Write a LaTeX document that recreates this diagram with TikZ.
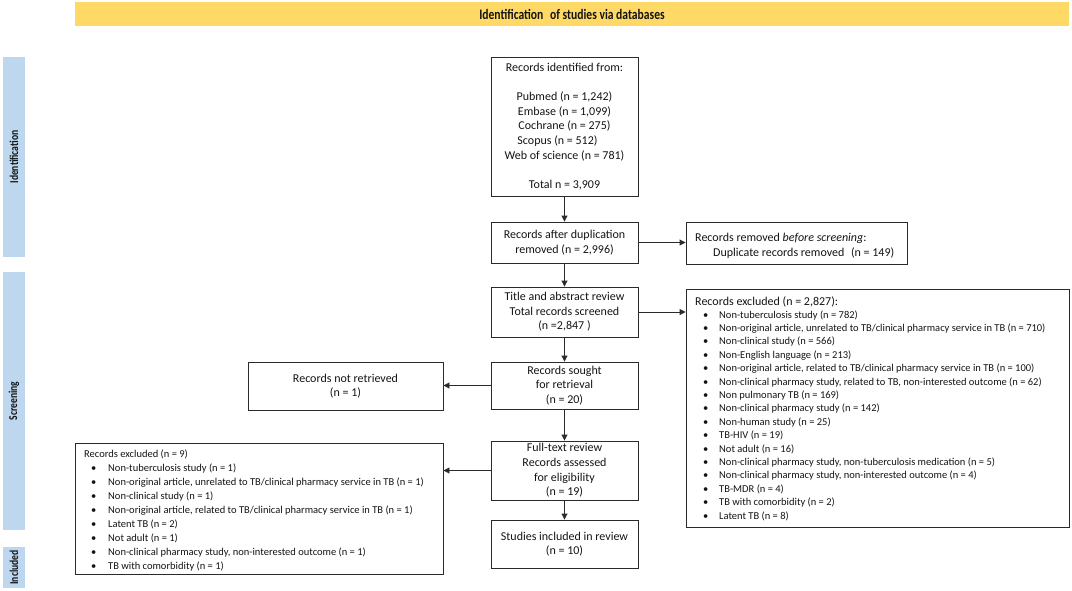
\documentclass[tikz,border=0pt]{standalone}
\usepackage{fontspec}
\setmainfont{Carlito}
\newfontfamily\condfont[FakeStretch=0.8]{Carlito}
\usetikzlibrary{arrows.meta}
\definecolor{banner}{HTML}{FFD966}
\definecolor{barblue}{HTML}{BDD7EE}
\definecolor{boxline}{HTML}{2B2B2B}
\definecolor{txt}{HTML}{141414}
\begin{document}
\begin{tikzpicture}[x=1pt,y=-1pt,
  cbox/.style={draw=boxline, line width=0.9pt, align=center, inner sep=0pt, minimum width=147, text=txt, font=\fontsize{12}{14.6}\selectfont},
  obox/.style={draw=boxline, line width=0.9pt, inner sep=0pt},
  arr/.style={-{Triangle[length=6pt,width=6pt]}, draw=boxline, line width=0.9pt},
  bar/.style={fill=barblue, inner sep=0pt, rotate=90, text=txt, font={\condfont\bfseries\fontsize{12}{13}\selectfont}},
  bul/.style={anchor=base west, inner sep=0pt, text=txt, font=\fontsize{10.5}{12}\selectfont},
  hdr/.style={anchor=base west, inner sep=0pt, text=txt, font=\fontsize{12}{14}\selectfont}]
\useasboundingbox (0,0) rectangle (1072,590);
% banner
\node[fill=banner, minimum width=994, minimum height=24, inner sep=0pt, text=txt,
  font={\condfont\bfseries\fontsize{14.5}{15}\selectfont}] (banner) at (572,14) {Identification\hspace{4pt} of studies via databases};
% side bars
\node[bar, minimum width=200, minimum height=22] (idbar) at (14,157) {Identification};
\node[bar, minimum width=258, minimum height=22] (scbar) at (14,401) {Screening};
\node[bar, minimum width=41, minimum height=22] (inbar) at (14,567.5) {Included};
% central column
\node[cbox, minimum height=139] (b1) at (564.5,126.5) {Records identified from:\\ \mbox{}\\ Pubmed (n = 1,242)\\ Embase (n = 1,099)\\ Cochrane (n = 275)\\ Scopus (n = 512)\rule{14pt}{0pt}\\ Web of science (n = 781)\\ \mbox{}\\ Total n = 3,909};
\node[cbox, minimum height=41] (b2) at (564.5,242.5) {Records after duplication\\ removed (n = 2,996)};
\node[cbox, minimum height=50] (b3) at (564.5,312) {Title and abstract review\\ Total records screened\\ (n =2,847 )};
\node[cbox, minimum height=47] (b4) at (564.5,385.5) {Records sought\\ for retrieval\\ (n = 20)};
\node[cbox, minimum height=59] (b5) at (564.5,470.5) {Full-text review\\ Records assessed\\ for eligibility\\ (n = 19)};
\node[cbox, minimum height=48] (b6) at (564.5,544) {Studies included in review\\ (n = 10)};
% right boxes
\node[obox, minimum width=221, minimum height=42] (rem) at (796.5,243) {};
\node[hdr] (remh) at (695,241) {Records removed \textit{before screening}:};
\node[hdr] (reml) at (713,256) {Duplicate records removed\hspace{4pt} (n = 149)};
\node[obox, minimum width=383, minimum height=238] (excl) at (877.5,408) {};
\node[hdr] (exh) at (695,305) {Records excluded (n = 2,827):};
\foreach \t [count=\i] in {
  {Non-tuberculosis study (n = 782)},
  {Non-original article, unrelated to TB/clinical pharmacy service in TB (n = 710)},
  {Non-clinical study (n = 566)},
  {Non-English language (n = 213)},
  {Non-original article, related to TB/clinical pharmacy service in TB (n = 100)},
  {Non-clinical pharmacy study, related to TB, non-interested outcome (n = 62)},
  {Non pulmonary TB (n = 169)},
  {Non-clinical pharmacy study (n = 142)},
  {Non-human study (n = 25)},
  {TB-HIV (n = 19)},
  {Not adult (n = 16)},
  {Non-clinical pharmacy study, non-tuberculosis medication (n = 5)},
  {Non-clinical pharmacy study, non-interested outcome (n = 4)},
  {TB-MDR (n = 4)},
  {TB with comorbidity (n = 2)},
  {Latent TB (n = 8)}}{
  \node[bul] (rd\i) at ({703},{318.1+13.4*(\i-1)}) {•};
  \node[bul] (rt\i) at ({719},{318.1+13.4*(\i-1)}) {\t};
}
% left boxes
\node[cbox, minimum width=195, minimum height=48] (nr) at (345.5,386) {Records not retrieved\\ (n = 1)};
\node[obox, minimum width=368, minimum height=131] (lexcl) at (259,508.5) {};
\node[bul] (lxh) at (84,457) {Records excluded (n = 9)};
\foreach \t [count=\i] in {
  {Non-tuberculosis study (n = 1)},
  {Non-original article, unrelated to TB/clinical pharmacy service in TB (n = 1)},
  {Non-clinical study (n = 1)},
  {Non-original article, related to TB/clinical pharmacy service in TB (n = 1)},
  {Latent TB (n = 2)},
  {Not adult (n = 1)},
  {Non-clinical pharmacy study, non-interested outcome (n = 1)},
  {TB with comorbidity (n = 1)}}{
  \node[bul] (ld\i) at ({91},{471.9+13.9*(\i-1)}) {•};
  \node[bul] (lt\i) at ({108},{471.9+13.9*(\i-1)}) {\t};
}
% connectors
\draw[arr] (b1.south) -- (b2.north);
\draw[arr] (b2.south) -- (b3.north);
\draw[arr] (b3.south) -- (b4.north);
\draw[arr] (b4.south) -- (b5.north);
\draw[arr] (b5.south) -- (b6.north);
\draw[arr] (b2.east) -- (b2.east -| rem.west);
\draw[arr] (b3.east) -- (b3.east -| excl.west);
\draw[arr] (b4.west) -- (b4.west -| nr.east);
\draw[arr] (b5.west) -- (b5.west -| lexcl.east);
\end{tikzpicture}
\end{document}
